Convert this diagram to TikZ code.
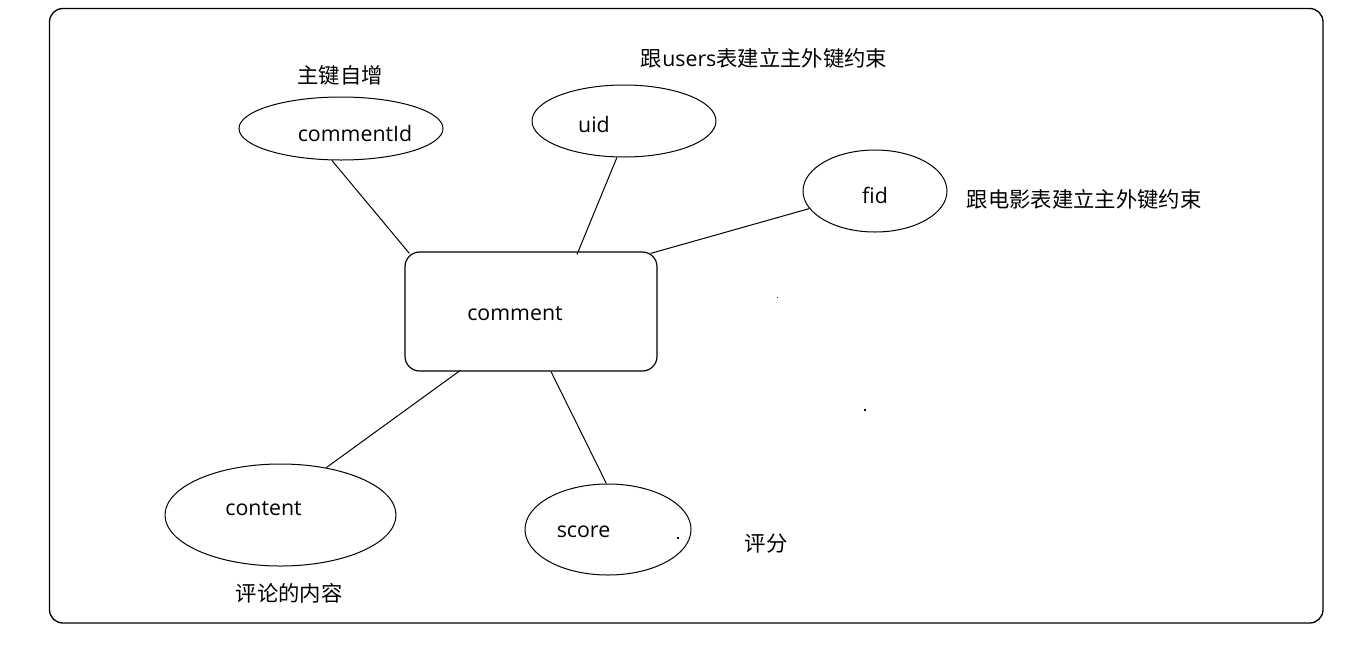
\documentclass[tikz,border=0pt]{standalone}
\usepackage{fontspec}
\setmainfont{Open Sans}
\newfontfamily\cjk{Noto Sans CJK SC}
\usetikzlibrary{shapes.geometric,calc}
\begin{document}
\begin{tikzpicture}[x=0.75pt,y=-0.75pt,
  attr/.style={draw,ellipse,line width=0.75pt,inner sep=0pt},
  entity/.style={draw,rectangle,rounded corners=11pt,line width=0.9pt,inner sep=0pt},
  link/.style={line width=0.75pt},
  txt/.style={inner sep=0pt,anchor=base,font=\fontsize{16pt}{19pt}\selectfont},
  note/.style={txt,font=\fontsize{16pt}{19pt}\selectfont\cjk}]
\useasboundingbox (0,0) rectangle (1345,647);
\fill[white] (0,0) rectangle (1345,647);
\draw[line width=1pt,rounded corners=10pt] (49.5,8.5) rectangle (1323,623);

% entity
\node[entity,minimum width=189pt,minimum height=89.25pt] (cm) at (531,311.5) {};
\node[txt] (cmt) at (515,320) {comment};

% attributes
\node[attr,minimum width=153pt,minimum height=47.25pt] (ca) at (341,128.5) {};
\node[txt] (cat) at (355,141) {commentId};
\node[note] (can) at (340,83) {主键自增};

\node[attr,minimum width=138pt,minimum height=54pt] (ua) at (624,121) {};
\node[txt] (uat) at (594,132) {uid};
\node[note] (uan) at (764,66) {跟{\rmfamily users}表建立主外键约束};

\node[attr,minimum width=108pt,minimum height=61.5pt] (fa) at (875,191) {};
\node[txt] (fat) at (875,203) {fid};
\node[note] (fan) at (1084,207) {跟电影表建立主外键约束};

\node[attr,minimum width=173.25pt,minimum height=76.5pt] (ct) at (280.5,515) {};
\node[txt] (ctt) at (263.5,515) {content};
\node[note] (ctn) at (289,601) {评论的内容};

\node[attr,minimum width=124.5pt,minimum height=68.25pt] (sc) at (608,529.5) {};
\node[txt] (sct) at (583.5,537) {score};
\node[note] (scn) at (766,551) {评分};

% connectors
\draw[link] (ca.-106) -- ($(cm.north west)+(5,2)$);
\draw[link] (ua.-101) -- ($(cm.north)+(46,3)$);
\draw[link] (fa.-165.6) -- ($(cm.north east)+(-7,2)$);
\draw[link] (ct.46) -- ($(cm.south)+(-71,-1)$);
\draw[link] (sc.92) -- ($(cm.south)+(20,0)$);

% stray specks
\fill (776.5,296.5) rectangle (778,298);
\fill (863.5,409) rectangle (866,410.5);
\fill (677,537) rectangle (679,538.5);
\end{tikzpicture}
\end{document}
